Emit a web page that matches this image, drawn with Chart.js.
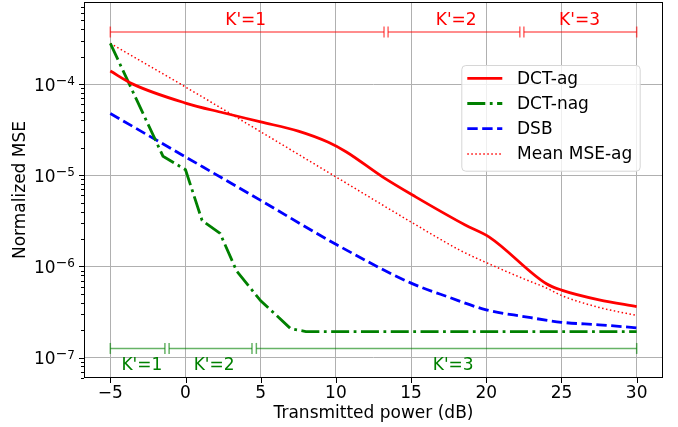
<!DOCTYPE html>
<html>
<head>
<meta charset="utf-8">
<script src="https://cdn.jsdelivr.net/npm/chart.js@4.4.1/dist/chart.umd.min.js"></script>
<style>
  html, body { margin: 0; padding: 0; background: #fff; }
</style>
</head>
<body>
<canvas id="myChart" width="678" height="427"></canvas>
<script>
// values
const dctAgX = [-5, -3.5, 0, 2.5, 5, 7.5, 9.5, 10.7, 13.1, 15.3, 18.6, 20.2, 24, 25, 27.5, 30]
const dctAgY = [1.39e-4, 1.0e-4, 6.2e-5, 4.85e-5, 3.85e-5, 3.05e-5, 2.3e-5, 1.8e-5, 9.6e-6, 5.8e-6, 2.85e-6, 2.1e-6, 6.45e-7, 5.5e-7, 4.3e-7, 3.63e-7]

const dctNagX = [-5, -1.5, 0, 1.1, 2.3, 3.4, 5, 7, 8, 30]
const dctNagY = [2.8e-4, 1.62e-5, 1.15e-5, 3.2e-6, 2.3e-6, 8.9e-7, 4.2e-7, 2.07e-7, 1.93e-7, 1.93e-7]

const dsbX = [-5, 0, 5, 10, 15, 17.5, 20, 22.5, 25, 27.5, 30]
const dsbY = [4.76e-5, 1.59e-5, 5.3e-6, 1.75e-6, 6.56e-7, 4.6e-7, 3.34e-7, 2.82e-7, 2.44e-7, 2.29e-7, 2.12e-7]

const meanX = [-5, 0, 5, 10, 15, 18.2, 20, 22.5, 24, 25, 27.5, 30]
const meanY = [2.8e-4, 9.3e-5, 3.0e-5, 9.6e-6, 3.07e-6, 1.52e-6, 1.1e-6, 7.3e-7, 5.8e-7, 4.8e-7, 3.55e-7, 2.9e-7]

// K' ranges
const spanLabels = ["K'=1", "K'=2", "K'=3"]
const redSpanFrom = [-5, 13.47, 22.5]
const redSpanTo = [13.2, 22.23, 30]
const redLabelX = [4.0, 18.0, 26.2]
const redSpanLevel = 3.73e-4
const redLabelLevel = 4.92e-4
const greenSpanFrom = [-5, -1.09, 4.71]
const greenSpanTo = [-1.37, 4.42, 30]
const greenLabelX = [-2.9, 1.9, 17.8]
const greenSpanLevel = 1.26e-7
const greenLabelLevel = 8.23e-8

const xTicks = [-5, 0, 5, 10, 15, 20, 25, 30]
const yDecades = [-8, -7, -6, -5, -4, -3]

const FONT = 'DejaVu Sans'
const FS = 17
const RED = '#ff0000'
const GREEN = '#008000'
const BLUE = '#0000ff'

function pts(xs, ys) {
  return xs.map((x, i) => ({ x, y: ys[i] }))
}

const mainSets = [
  { label: 'DCT-ag', data: pts(dctAgX, dctAgY), borderColor: RED, borderWidth: 2.8, borderDash: [], cubicInterpolationMode: 'monotone' },
  { label: 'DCT-nag', data: pts(dctNagX, dctNagY), borderColor: GREEN, borderWidth: 2.8, borderDash: [18, 4.5, 2.8, 4.5] },
  { label: 'DSB', data: pts(dsbX, dsbY), borderColor: BLUE, borderWidth: 2.8, borderDash: [10.4, 4.5], cubicInterpolationMode: 'monotone' },
  { label: 'Mean MSE-ag', data: pts(meanX, meanY), borderColor: RED, borderWidth: 1.5, borderDash: [1.5, 2.5], cubicInterpolationMode: 'monotone' },
]
mainSets.forEach((d) => {
  d.pointRadius = 0
  d.fill = false
  d.borderCapStyle = 'butt'
})

function spanSets(from, to, level, color) {
  return from.map((f, i) => ({
    label: '',
    data: [{ x: f, y: level }, { x: to[i], y: level }],
    borderColor: color,
    borderWidth: 1.5,
    pointStyle: 'line',
    pointRotation: 90,
    pointRadius: 5.5,
    pointBorderColor: color,
    pointBorderWidth: 1.5,
  }))
}

const datasets = [
  ...mainSets,
  ...spanSets(redSpanFrom, redSpanTo, redSpanLevel, 'rgba(255,0,0,0.6)'),
  ...spanSets(greenSpanFrom, greenSpanTo, greenSpanLevel, 'rgba(0,128,0,0.6)'),
]

const yMin = 5.97e-8
const yMax = 7.96e-4

const decor = {
  id: 'decor',
  beforeDraw(chart) {
    const ctx = chart.ctx
    ctx.save()
    ctx.fillStyle = '#fff'
    ctx.fillRect(0, 0, chart.width, chart.height)
    ctx.restore()
  },
  afterDatasetsDraw(chart) {
    const { ctx, chartArea: a, scales: { x, y } } = chart
    ctx.save()
    // frame
    ctx.strokeStyle = '#000'
    ctx.lineWidth = 1
    ctx.strokeRect(a.left + 0.5, a.top + 0.5, a.right - a.left - 1, a.bottom - a.top - 1)
    // x tick marks
    ctx.beginPath()
    xTicks.forEach((v) => {
      const px = Math.round(x.getPixelForValue(v)) + 0.5
      ctx.moveTo(px, a.bottom)
      ctx.lineTo(px, a.bottom + 5)
    })
    // y tick marks, major and minor
    y.ticks.forEach((t) => {
      const py = Math.round(y.getPixelForValue(t.value)) + 0.5
      ctx.moveTo(a.left, py)
      ctx.lineTo(a.left - (t.major ? 5 : 3), py)
    })
    ctx.stroke()

    // x tick labels
    ctx.fillStyle = '#000'
    ctx.font = FS + 'px ' + FONT
    ctx.textAlign = 'center'
    ctx.textBaseline = 'middle'
    xTicks.forEach((v) => {
      ctx.fillText(String(v).replace('-', '\u2212'), x.getPixelForValue(v), a.bottom + 15.5)
    })

    // y labels 10^n
    ctx.textBaseline = 'alphabetic'
    ctx.textAlign = 'left'
    y.ticks.filter((t) => t.major).forEach((t) => {
      const py = y.getPixelForValue(t.value)
      const e = Math.round(Math.log10(t.value))
      ctx.font = '14px ' + FONT
      const mw = ctx.measureText('\u2212').width
      ctx.font = '12px ' + FONT
      const dw = ctx.measureText(String(Math.abs(e))).width
      ctx.font = FS + 'px ' + FONT
      const bw = ctx.measureText('10').width
      const right = a.left - 9
      const x0 = right - dw - mw - bw
      ctx.fillText('10', x0, py + 6.5)
      ctx.font = '14px ' + FONT
      ctx.fillText('\u2212', x0 + bw, py + 0.5)
      ctx.font = '12px ' + FONT
      ctx.fillText(String(Math.abs(e)), x0 + bw + mw, py + 1)
    })

    // K' labels
    ctx.font = FS + 'px ' + FONT
    ctx.textAlign = 'center'
    ctx.textBaseline = 'middle'
    ctx.fillStyle = RED
    spanLabels.forEach((s, i) => {
      ctx.fillText(s, x.getPixelForValue(redLabelX[i]), y.getPixelForValue(redLabelLevel))
    })
    ctx.fillStyle = GREEN
    spanLabels.forEach((s, i) => {
      ctx.fillText(s, x.getPixelForValue(greenLabelX[i]), y.getPixelForValue(greenLabelLevel))
    })

    // legend
    const lx = a.right - 201.7
    const ly = a.top + 63
    const lw = 178.4
    const lh = 105.7
    ctx.beginPath()
    ctx.roundRect(lx + 0.5, ly + 0.5, lw, lh, 4)
    ctx.fillStyle = 'rgba(255,255,255,0.8)'
    ctx.fill()
    ctx.strokeStyle = '#d6d6d6'
    ctx.lineWidth = 1
    ctx.stroke()
    ctx.textAlign = 'left'
    ctx.textBaseline = 'middle'
    mainSets.forEach((d, i) => {
      const ry = ly + 13.3 + i * 25.2
      ctx.beginPath()
      ctx.strokeStyle = d.borderColor
      ctx.lineWidth = d.borderWidth
      ctx.setLineDash(d.borderDash)
      ctx.moveTo(lx + 6, ry)
      ctx.lineTo(lx + 41, ry)
      ctx.stroke()
      ctx.setLineDash([])
      ctx.fillStyle = '#000'
      ctx.font = FS + 'px ' + FONT
      ctx.fillText(d.label, lx + 55.7, ry + 1)
    })
    ctx.restore()
  },
}

const chart = new Chart(document.getElementById('myChart').getContext('2d'), {
  type: 'line',
  data: { datasets },
  options: {
    responsive: false,
    animation: false,
    devicePixelRatio: 1,
    layout: { autoPadding: false, padding: { left: 0, right: 15, top: 2, bottom: 0 } },
    plugins: { legend: { display: false }, tooltip: { enabled: false } },
    scales: {
      x: {
        type: 'linear',
        min: -6.75,
        max: 31.75,
        afterBuildTicks: (s) => { s.ticks = xTicks.map((v) => ({ value: v })) },
        afterFit: (s) => { s.height = 49 },
        grid: { color: '#b0b0b0', lineWidth: 1, drawTicks: false },
        border: { display: false },
        ticks: { display: false },
        title: {
          display: true,
          text: 'Transmitted power (dB)',
          color: '#000',
          font: { family: FONT, size: FS },
          padding: { top: 0, bottom: 3 },
        },
      },
      y: {
        type: 'logarithmic',
        min: yMin,
        max: yMax,
        afterBuildTicks: (s) => {
          const t = []
          yDecades.forEach((e) => {
            for (let k = 1; k <= 9; k++) {
              const v = k * Math.pow(10, e)
              if (v >= yMin && v <= yMax) t.push({ value: v, major: k === 1 })
            }
          })
          s.ticks = t
        },
        afterFit: (s) => { s.width = 84 },
        grid: {
          color: (c) => (c.tick && c.tick.major ? '#b0b0b0' : 'rgba(0,0,0,0)'),
          lineWidth: 1,
          drawTicks: false,
        },
        border: { display: false },
        ticks: { display: false },
        title: {
          display: true,
          text: 'Normalized MSE',
          color: '#000',
          font: { family: FONT, size: FS },
          padding: { top: 10.5, bottom: 0 },
        },
      },
    },
  },
  plugins: [decor],
})
</script>
</body>
</html>
